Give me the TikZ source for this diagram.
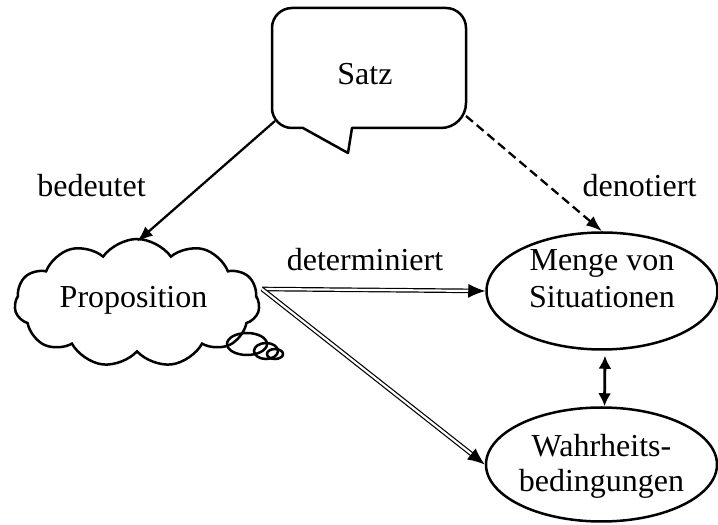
\documentclass[tikz,border=0pt]{standalone}
\usepackage{fontspec}
\setmainfont{Liberation Serif}
\usetikzlibrary{shapes.geometric,shapes.symbols,arrows.meta,calc}
\begin{document}
\begin{tikzpicture}[x=1pt,y=1pt,
  lbl/.style={font=\fontsize{32}{37}\selectfont, inner sep=0pt, anchor=base},
  outl/.style={line width=2.5pt},
  ell/.style={ellipse, draw, line width=2.5pt, inner sep=0pt},
  solidarr/.style={line width=2.3pt, -{Latex[length=16pt,width=12pt]}},
  dasharr/.style={line width=2.3pt, dash pattern=on 9pt off 5pt, -{Latex[length=16pt,width=12pt]}},
  dblline/.style={double, double distance=2.2pt, line width=1.2pt, shorten >=12pt},
  dbltip/.style={line width=1pt, -{Latex[length=17pt,width=14pt]}},
  bothark/.style={line width=2.8pt, {Latex[length=13pt,width=13pt]}-{Latex[length=13pt,width=13pt]}}
]
\useasboundingbox (0,0) rectangle (718,525);
% speech bubble
\draw[outl, line join=round] (352,397) -- (441,397) arc[start angle=-90, end angle=0, radius=25] -- (466,497)
  arc[start angle=0, end angle=90, radius=20] -- (292,517)
  arc[start angle=90, end angle=180, radius=20] -- (272,417)
  arc[start angle=180, end angle=270, radius=20] -- (303,397) -- (348,372) -- cycle;
\node[lbl] (satz) at (365,440) {Satz};
\coordinate (sL) at (275,404);
\coordinate (sR) at (466,409);
% cloud
\node[cloud, draw, line width=2.5pt, cloud puffs=11, cloud puff arc=110, cloud ignores aspect,
  minimum width=245pt, minimum height=128pt, inner sep=0pt] (prop) at (137,222) {};
\node[lbl] (propT) at (133.5,217) {Proposition};
\draw[outl] (247,181) ellipse[x radius=20, y radius=11];
\draw[outl] (266,174) ellipse[x radius=12, y radius=8];
\draw[outl] (275,171) ellipse[x radius=8, y radius=5];
\coordinate (pR) at (262,236);
% ellipses
\node[ell, minimum width=231pt, minimum height=117pt] (menge) at (602,234) {};
\node[lbl] (m1) at (602,254) {Menge von};
\node[lbl] (m2) at (602,217) {Situationen};
\node[ell, minimum width=231pt, minimum height=114pt] (wahr) at (601.5,60.5) {};
\node[lbl] (w1) at (601.5,68) {Wahrheits-};
\node[lbl] (w2) at (601.5,33) {bedingungen};
% labels
\node[lbl] (bed) at (91.5,328) {bedeutet};
\node[lbl] (den) at (639.5,328) {denotiert};
\node[lbl] (det) at (365,254) {determiniert};
% connectors
\draw[solidarr] (sL) -- ([yshift=-4pt]prop.north);
\draw[dasharr] (sR) -- (menge.north);
\draw[dblline] (pR) -- (menge.west);
\draw[dbltip] ($(menge.west)!16pt!(pR)$) -- (menge.west);
\draw[dblline] (pR) -- (wahr.west);
\draw[dbltip] ($(wahr.west)!16pt!(pR)$) -- (wahr.west);
\draw[bothark] ([yshift=-5pt,xshift=3pt]menge.south) -- ([xshift=3pt]wahr.north);
\end{tikzpicture}
\end{document}
